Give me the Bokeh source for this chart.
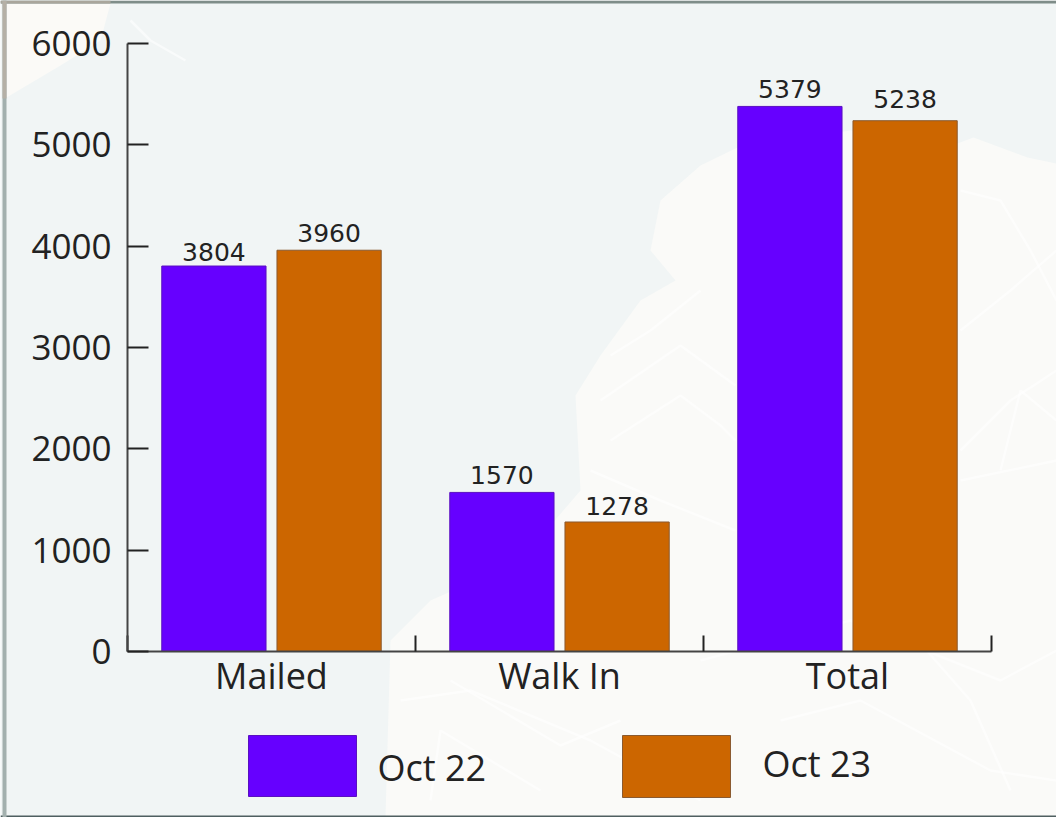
from bokeh.embed import file_html
from bokeh.resources import INLINE
from bokeh.plotting import figure
from bokeh.models import ColumnDataSource, FixedTicker, Range1d
from bokeh.core.properties import value

categories = ["Mailed", "Walk In", "Total"]
oct_22 = [3804, 1570, 5379]
oct_23 = [3960, 1278, 5238]
y_ticks = [0, 1000, 2000, 3000, 4000, 5000, 6000]
series_names = ["Oct 22", "Oct 23"]
label_gap_22 = [5, 8, 8]
label_gap_23 = [8, 7, 13]

PURPLE = "#6600ff"
ORANGE = "#cc6600"
INK = "#222222"
W, H = 1056, 817
X0, X3, Y0, Y6000 = 127, 991, 651, 43   # pixel places of the axes' ends


def dx(px):
    return [(v - X0) / ((X3 - X0) / len(categories)) for v in px]


def dy(py):
    return [(Y0 - v) * 6000 / (Y0 - Y6000) for v in py]


centers = [i + 0.5 for i in range(len(categories))]
src = ColumnDataSource(dict(
    x22=[c - 0.2 for c in centers],
    x23=[c + 0.2 for c in centers],
    oct_22=oct_22,
    oct_23=oct_23,
    l22=[str(v) for v in oct_22],
    l23=[str(v) for v in oct_23],
    g22=[-g for g in label_gap_22],
    g23=[-g for g in label_gap_23],
))

p = figure(width=W, height=H, output_backend="svg", toolbar_location=None,
           x_range=Range1d(dx([0])[0], dx([W])[0]), y_range=Range1d(dy([H])[0], dy([0])[0]),
           min_border=0, min_border_left=0, min_border_right=0, min_border_top=0, min_border_bottom=0,
           background_fill_color="#f1f5f5", border_fill_color="#f1f5f5",
           outline_line_color=None,
           styles={"position": "absolute", "left": "0px", "top": "0px"})
p.grid.visible = False

# faint map behind the chart: land, corner patch, streets
land_x = [385, 390, 430, 520, 580, 575, 600, 640, 675, 650, 660, 700, 737, 850, 957, 973, 1027, 1056, 1056, 385]
land_y = [817, 640, 600, 560, 490, 395, 355, 300, 280, 250, 200, 165, 147, 130, 143, 137, 157, 163, 817, 817]
p.patch(dx(land_x), dy(land_y), fill_color="#fafaf8", line_color=None)
p.patch(dx([6, 110, 100, 60, 6]), dy([3, 3, 40, 65, 97]), fill_color="#fbfaf7", line_color=None)

streets = [
    [[130, 150, 185], [20, 40, 60]],
    [[600, 680, 735], [400, 345, 385]],
    [[610, 680, 720, 735], [440, 395, 425, 440]],
    [[590, 660, 735], [470, 500, 530]],
    [[610, 650, 700], [355, 330, 290]],
    [[960, 1000, 1030, 1056], [190, 200, 250, 300]],
    [[960, 1010, 1056], [330, 290, 250]],
    [[960, 1010, 1056], [450, 400, 370]],
    [[1000, 1020, 1056], [470, 390, 420]],
    [[960, 1056], [480, 460]],
    [[400, 470, 590, 700], [700, 690, 740, 800]],
    [[450, 560, 620], [680, 745, 720]],
    [[700, 850, 1000, 1056], [660, 620, 680, 650]],
    [[780, 860, 990, 1056], [720, 700, 770, 780]],
    [[900, 970, 1010], [620, 700, 790]],
    [[430, 440, 540], [800, 730, 790]],
]
p.multi_line([dx(s[0]) for s in streets], [dy(s[1]) for s in streets],
             line_color="#ffffff", line_width=2.5, line_alpha=0.55)

# frame of the picture
p.quad(left=dx([0]), right=dx([W]), top=dy([0]), bottom=dy([3]), fill_color="#7f8d89", line_color=None)
p.quad(left=dx([0]), right=dx([110]), top=dy([0]), bottom=dy([3]), fill_color="#a9a69c", line_color=None)
p.quad(left=dx([0]), right=dx([W]), top=dy([815]), bottom=dy([H]), fill_color="#4f5f60", line_color=None)
p.quad(left=dx([2]), right=dx([6]), top=dy([0]), bottom=dy([H]), fill_color="#a3b0ae", line_color=None)
p.quad(left=dx([2]), right=dx([6]), top=dy([0]), bottom=dy([98]), fill_color="#b5b0a6", line_color=None)

bars = dict(source=src, bottom=0, width=0.362, line_width=1)
p.vbar(x="x22", top="oct_22", fill_color=PURPLE, line_color="#5a10c0", **bars)
p.vbar(x="x23", top="oct_23", fill_color=ORANGE, line_color="#8a5a30", **bars)

lab = dict(source=src, text_align="center", text_baseline="bottom",
           text_font=value("DejaVu Sans"), text_font_size="25px", text_color=INK)
p.text(x="x22", y="oct_22", text="l22", y_offset="g22", **lab)
p.text(x="x23", y="oct_23", text="l23", y_offset="g23", **lab)

ax = p.xaxis[0]
ax.fixed_location = 0
ax.bounds = (0, len(categories))
ax.ticker = FixedTicker(ticks=centers, minor_ticks=list(range(len(categories) + 1)))
ax.major_label_overrides = {c: n for c, n in zip(centers, categories)}
ax.major_tick_line_color = None
ax.major_tick_in = 0
ax.major_tick_out = 0
ax.minor_tick_line_color = INK
ax.minor_tick_line_width = 2
ax.minor_tick_in = 16
ax.minor_tick_out = 0
ax.axis_line_color = "#444444"
ax.axis_line_width = 2
ax.major_label_text_font = "Open Sans"
ax.major_label_text_font_size = "36px"
ax.major_label_text_color = INK
ax.major_label_standoff = -1

ay = p.yaxis[0]
ay.fixed_location = 0
ay.bounds = (0, 6000)
ay.ticker = FixedTicker(ticks=y_ticks)
ay.major_tick_in = 21
ay.major_tick_out = 0
ay.major_tick_line_color = INK
ay.major_tick_line_width = 2
ay.minor_tick_line_color = None
ay.axis_line_color = "#444444"
ay.axis_line_width = 2
ay.major_label_text_font = "Open Sans"
ay.major_label_text_font_size = "35px"
ay.major_label_text_color = INK
ay.major_label_standoff = 16

# legend
p.quad(left=dx([248]), right=dx([356]), top=dy([735]), bottom=dy([796]), fill_color=PURPLE, line_color="#5a10c0")
p.quad(left=dx([622]), right=dx([730]), top=dy([735]), bottom=dy([797]), fill_color=ORANGE, line_color="#8a5a30")
txt = dict(text_font=value("Open Sans"), text_font_size="36px", text_color=INK, text_baseline="middle")
p.text(x=dx([377]), y=dy([767]), text=[series_names[0]], **txt)
p.text(x=dx([762]), y=dy([763]), text=[series_names[1]], **txt)

open("out.html", "w").write(file_html(p, INLINE))
